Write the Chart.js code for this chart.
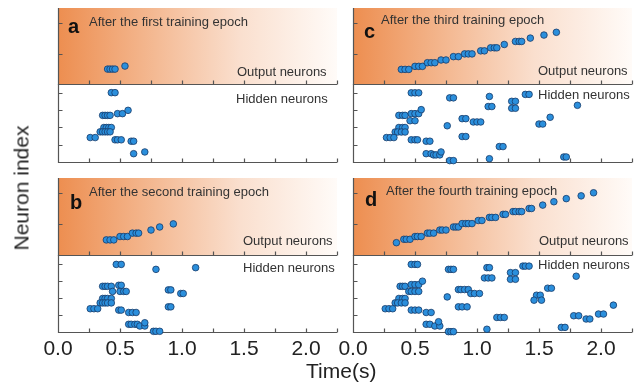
<!DOCTYPE html>
<html>
<head>
<meta charset="utf-8">
<script src="https://cdn.jsdelivr.net/npm/chart.js@4.4.0/dist/chart.umd.min.js"></script>
<style>
  html, body { margin: 0; padding: 0; background: #ffffff; }
  #fig { position: relative; width: 643px; height: 388px; overflow: hidden;
         font-family: 'Liberation Sans', Arial, sans-serif; }
  #fig canvas { position: absolute; left: 0; top: 0; }
  .t { position: absolute; white-space: nowrap; line-height: 1; color: #333; font-size: 13px; }
  .letter { position: absolute; line-height: 1; font-size: 20px; font-weight: bold; color: #111; }
  .axis-title { position: absolute; white-space: nowrap; line-height: 1; font-size: 21px; color: #222; }
</style>
</head>
<body>
<div id="fig">
  <canvas id="aOut" width="643" height="388"></canvas>
  <canvas id="aHid" width="643" height="388"></canvas>
  <canvas id="bOut" width="643" height="388"></canvas>
  <canvas id="bHid" width="643" height="388"></canvas>
  <canvas id="cOut" width="643" height="388"></canvas>
  <canvas id="cHid" width="643" height="388"></canvas>
  <canvas id="dOut" width="643" height="388"></canvas>
  <canvas id="dHid" width="643" height="388"></canvas>

  <div class="letter" style="left:68px;top:16px;">a</div>
  <div class="t" style="left:89px;top:15px;">After the first training epoch</div>
  <div class="t" style="left:237px;top:65px;">Output neurons</div>
  <div class="t" style="left:236px;top:92px;">Hidden neurons</div>

  <div class="letter" style="left:70px;top:192px;">b</div>
  <div class="t" style="left:89px;top:185px;">After the second training epoch</div>
  <div class="t" style="left:243px;top:234px;">Output neurons</div>
  <div class="t" style="left:243px;top:261px;">Hidden neurons</div>

  <div class="letter" style="left:364px;top:21px;">c</div>
  <div class="t" style="left:381px;top:13px;">After the third training epoch</div>
  <div class="t" style="left:538px;top:64px;">Output neurons</div>
  <div class="t" style="left:538px;top:88px;">Hidden neurons</div>

  <div class="letter" style="left:365px;top:189px;">d</div>
  <div class="t" style="left:386px;top:184px;">After the fourth training epoch</div>
  <div class="t" style="left:539px;top:234px;">Output neurons</div>
  <div class="t" style="left:538px;top:258px;">Hidden neurons</div>

  <div class="axis-title" style="left:306px;top:360px;">Time(s)</div>
  <div class="axis-title" style="left:21px;top:188px;transform:translate(-50%,-50%) rotate(-90deg);">Neuron index</div>
</div>

<script>
// ---- time axis ----
const timeTicks = [0.25, 0.5, 0.75, 1.0, 1.25, 1.5, 1.75, 2.0, 2.25];
const labelledTimes = [0, 0.5, 1.0, 1.5, 2.0];
const tickLabels = ['0.0', '0.5', '1.0', '1.5', '2.0'];
const outputTicks = [1, 2];
const hiddenTicks = [1, 2, 3, 4];

// ---- spike rasters: each row is [neuron index, [spike times in s]] ----
const epoch1Output = [
  [0.49, [0.40, 0.42, 0.44, 0.46]],
  [0.59, [0.54]]
];
const epoch1Hidden = [
  [4.00, [0.43, 0.46]],
  [2.69, [0.36, 0.38, 0.40, 0.42]],
  [2.79, [0.48, 0.52]],
  [2.98, [0.565]],
  [1.99, [0.37, 0.39, 0.41, 0.43]],
  [1.74, [0.34, 0.36, 0.38, 0.40, 0.42]],
  [1.41, [0.26, 0.30]],
  [1.28, [0.46, 0.48, 0.51]],
  [1.20, [0.59, 0.61]],
  [0.48, [0.61]],
  [0.58, [0.70]]
];

const epoch2Output = [
  [0.49, [0.39, 0.42, 0.45]],
  [0.60, [0.50, 0.53, 0.56]],
  [0.71, [0.60, 0.63, 0.65]],
  [0.81, [0.75]],
  [0.91, [0.82]],
  [1.01, [0.93]]
];
const epoch2Hidden = [
  [3.95, [0.47, 0.51]],
  [3.66, [0.79]],
  [3.76, [1.11]],
  [2.67, [0.36, 0.38, 0.40, 0.43]],
  [2.73, [0.49, 0.51]],
  [2.37, [0.44, 0.50, 0.53, 0.55]],
  [2.46, [0.89, 0.91]],
  [2.25, [0.99, 1.01]],
  [1.96, [0.36, 0.38, 0.40, 0.43]],
  [1.70, [0.34, 0.36, 0.38, 0.40, 0.43]],
  [1.36, [0.26, 0.29, 0.32]],
  [1.28, [0.49, 0.51]],
  [1.47, [0.89, 0.91]],
  [1.14, [0.57, 0.60, 0.63]],
  [0.45, [0.57, 0.59, 0.62, 0.64]],
  [0.35, [0.66, 0.70]],
  [0.54, [0.70]],
  [0.04, [0.77, 0.79, 0.82]]
];

const epoch3Output = [
  [0.48, [0.39, 0.42, 0.45]],
  [0.58, [0.50, 0.53, 0.56]],
  [0.70, [0.60, 0.63, 0.66]],
  [0.79, [0.71, 0.75]],
  [0.90, [0.81, 0.85]],
  [0.99, [0.90, 0.93, 0.96]],
  [1.09, [1.03, 1.06]],
  [1.19, [1.11, 1.14, 1.16]],
  [1.30, [1.22]],
  [1.40, [1.31, 1.34, 1.36]],
  [1.51, [1.43]],
  [1.61, [1.54]],
  [1.70, [1.64]]
];
const epoch3Hidden = [
  [3.99, [0.47, 0.50, 0.53]],
  [3.70, [0.78, 0.81]],
  [3.78, [1.10]],
  [3.90, [1.39, 1.42]],
  [3.20, [1.09, 1.12]],
  [3.50, [1.28, 1.31]],
  [3.10, [1.28, 1.31]],
  [3.27, [1.81]],
  [2.69, [0.37, 0.40, 0.42]],
  [2.79, [0.47, 0.50, 0.53]],
  [3.02, [0.55]],
  [2.38, [0.46, 0.50]],
  [2.09, [0.76]],
  [2.50, [0.88, 0.91]],
  [2.31, [0.97, 1.00, 1.03]],
  [2.19, [1.50, 1.53]],
  [2.58, [1.59]],
  [1.99, [0.37, 0.40, 0.42]],
  [1.73, [0.34, 0.36, 0.39, 0.42]],
  [1.41, [0.27, 0.30, 0.33]],
  [1.28, [0.47, 0.50, 0.52]],
  [1.20, [0.59, 0.62]],
  [1.47, [0.88, 0.91]],
  [0.89, [1.18, 1.21]],
  [0.48, [0.59, 0.63]],
  [0.41, [0.65, 0.67, 0.70]],
  [0.58, [0.71]],
  [0.08, [0.78, 0.81]],
  [0.19, [1.10]],
  [0.29, [1.70, 1.72]]
];

const epoch4Output = [
  [0.40, [0.35]],
  [0.51, [0.41, 0.43, 0.46]],
  [0.60, [0.50, 0.52, 0.55]],
  [0.71, [0.60, 0.62, 0.65]],
  [0.81, [0.70, 0.72, 0.75]],
  [0.91, [0.81, 0.83, 0.85]],
  [1.02, [0.88, 0.91, 0.93, 0.96]],
  [1.12, [1.01, 1.04]],
  [1.22, [1.10, 1.12, 1.15]],
  [1.32, [1.21, 1.23]],
  [1.41, [1.29, 1.31, 1.34, 1.36]],
  [1.51, [1.42, 1.44]],
  [1.62, [1.53]],
  [1.73, [1.62]],
  [1.83, [1.72]],
  [1.92, [1.84]],
  [2.02, [1.94]]
];
const epoch4Hidden = [
  [3.95, [0.47, 0.50, 0.52]],
  [3.66, [0.77, 0.79, 0.81]],
  [3.76, [1.08, 1.10]],
  [3.47, [1.27, 1.31]],
  [3.08, [1.27, 1.31]],
  [3.16, [1.06, 1.09, 1.12]],
  [3.85, [1.37, 1.39, 1.42]],
  [3.26, [1.80]],
  [2.67, [0.38, 0.40, 0.42]],
  [2.77, [0.47, 0.50, 0.53]],
  [2.97, [0.56]],
  [2.37, [0.45, 0.47, 0.50, 0.53]],
  [2.48, [0.85, 0.87, 0.90, 0.93]],
  [2.25, [0.95, 0.98, 1.02]],
  [2.05, [0.76]],
  [2.56, [1.57, 1.60]],
  [2.15, [1.48, 1.51]],
  [1.86, [1.46, 1.52]],
  [1.96, [0.37, 0.40, 0.42]],
  [1.70, [0.34, 0.36, 0.39, 0.42]],
  [1.36, [0.26, 0.29, 0.32]],
  [1.28, [0.47, 0.50, 0.53]],
  [1.14, [0.59, 0.63]],
  [1.47, [0.85, 0.88, 0.92]],
  [0.85, [1.16, 1.19, 1.22]],
  [0.45, [0.59, 0.62]],
  [0.35, [0.66, 0.70]],
  [0.60, [0.69]],
  [0.02, [0.77, 0.79, 0.81]],
  [0.16, [1.08]],
  [0.27, [1.68, 1.71]],
  [0.95, [1.78, 1.82]],
  [0.76, [1.88, 1.91]],
  [1.05, [1.98, 2.02]],
  [1.57, [2.10]]
];

// ---- layout of the four panels (pixel boxes of the plot areas) ----
const W = 643, H = 388;
const LABEL_BAND = 36;   // room reserved under the bottom axes for the time labels
const panels = [
  { key: 'a', out: epoch1Output, hid: epoch1Hidden, left: 58,  right: 337, top: 8,   mid: 84,  bottom: 162, labels: false },
  { key: 'b', out: epoch2Output, hid: epoch2Hidden, left: 58,  right: 337, top: 178, mid: 255, bottom: 332, labels: true  },
  { key: 'c', out: epoch3Output, hid: epoch3Hidden, left: 353, right: 632, top: 8,   mid: 84,  bottom: 162, labels: false },
  { key: 'd', out: epoch4Output, hid: epoch4Hidden, left: 353, right: 632, top: 178, mid: 255, bottom: 332, labels: true  }
];

// orange wash behind the output-neuron rasters
const panelShade = {
  id: 'panelShade',
  beforeDraw(chart) {
    const { ctx, chartArea: a } = chart;
    const g = ctx.createLinearGradient(a.left, 0, a.right, 0);
    g.addColorStop(0.00, 'rgb(237,142,80)');
    g.addColorStop(0.35, 'rgb(244,186,148)');
    g.addColorStop(0.65, 'rgb(250,223,206)');
    g.addColorStop(1.00, 'rgb(255,251,248)');
    ctx.save();
    ctx.fillStyle = g;
    ctx.fillRect(a.left, a.top, a.right - a.left, a.bottom - a.top);
    ctx.restore();
  }
};

// left and bottom spines with inward tick marks
const frameAxes = {
  id: 'frameAxes',
  beforeDatasetsDraw(chart, args, o) {
    const { ctx, chartArea: a, scales: { x, y } } = chart;
    const L = Math.round(a.left) + 0.5, B = Math.round(a.bottom) + 0.5;
    ctx.save();
    ctx.strokeStyle = '#555';
    ctx.lineWidth = 1.2;
    ctx.beginPath();
    ctx.moveTo(L, a.top);
    ctx.lineTo(L, B);
    ctx.lineTo(a.right, B);
    for (const v of timeTicks) {
      const px = Math.round(x.getPixelForValue(v)) + 0.5;
      ctx.moveTo(px, B);
      ctx.lineTo(px, B - 4);
    }
    for (const v of o.yTicks) {
      const py = Math.round(y.getPixelForValue(v)) + 0.5;
      ctx.moveTo(L, py);
      ctx.lineTo(L + 4, py);
    }
    ctx.stroke();
    ctx.restore();
  }
};

function toPoints(rows) {
  const pts = [];
  rows.forEach(([idx, times]) => times.forEach(t => pts.push({ x: t, y: idx })));
  return pts;
}

function makeRaster(canvasId, rows, box, yMax, yTicks, shaded, showLabels) {
  const plugins = shaded ? [panelShade, frameAxes] : [frameAxes];
  const band = showLabels ? LABEL_BAND : 0;
  new Chart(document.getElementById(canvasId), {
    type: 'scatter',
    data: {
      datasets: [{
        data: toPoints(rows),
        pointRadius: 3.3,
        pointBackgroundColor: '#2b8fdc',
        pointBorderColor: '#163a68',
        pointBorderWidth: 0.8,
        clip: false
      }]
    },
    options: {
      responsive: false,
      animation: false,
      devicePixelRatio: 1,
      events: [],
      layout: { padding: { left: box.left, top: box.top, right: W - box.right, bottom: H - box.bottom - band } },
      plugins: { legend: { display: false }, tooltip: { enabled: false }, frameAxes: { yTicks } },
      scales: {
        x: {
          type: 'linear', min: 0, max: 2.25,
          display: showLabels,
          grid: { display: false },
          border: { display: false },
          afterFit(s) { s.height = band; },
          ticks: {
            stepSize: 0.25, autoSkip: false, maxRotation: 0, padding: -1,
            color: '#222',
            font: { family: "'Liberation Sans', Arial, sans-serif", size: 21, lineHeight: 1 },
            callback(v) {
              const i = labelledTimes.findIndex(t => Math.abs(t - v) < 1e-6);
              return i >= 0 ? tickLabels[i] : '';
            }
          }
        },
        y: { type: 'linear', min: 0, max: yMax, display: false }
      }
    },
    plugins
  });
}

panels.forEach(p => {
  makeRaster(p.key + 'Out', p.out, { left: p.left, right: p.right, top: p.top, bottom: p.mid }, 2.5, outputTicks, true, false);
  makeRaster(p.key + 'Hid', p.hid, { left: p.left, right: p.right, top: p.mid, bottom: p.bottom }, 4.5, hiddenTicks, false, p.labels);
});
</script>
</body>
</html>
